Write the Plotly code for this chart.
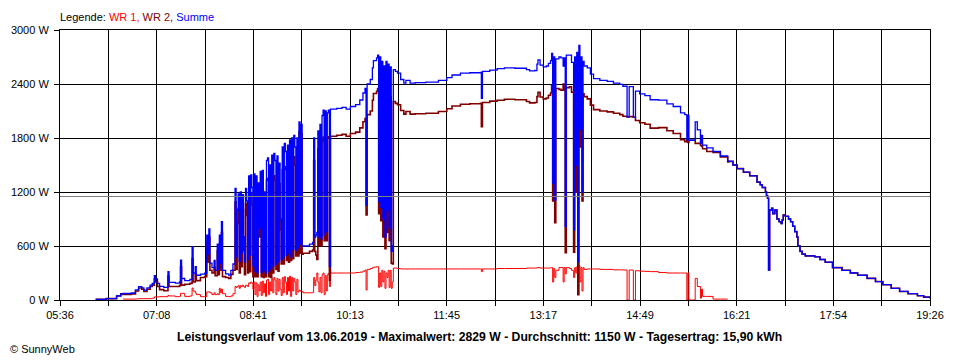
import plotly.graph_objects as go

# ---------------- data (minutes since midnight, watts) ----------------
zeit_min = [
    370, 380, 390, 394, 396, 404, 408, 411, 414, 416, 419, 422, 424, 426, 427, 429, 431, 435, 439, 440,
    446, 450, 451, 452, 455, 460, 462, 463, 465, 466, 470, 474, 476, 477, 478, 479, 481, 483, 484, 486,
    487, 488, 489, 490, 491, 494, 497, 499, 501,
    503, 504, 505, 506, 507, 508, 509, 510, 511, 512, 513, 514, 515, 516, 517, 518, 519, 520, 521, 522,
    523, 524, 525, 526, 527, 528, 529, 530, 531, 532, 533, 534, 535, 536, 537, 538, 539, 540, 541, 542,
    543, 544, 545, 546, 547, 548, 549, 550, 551, 552, 553, 554, 555, 556, 557, 558, 559, 560, 561, 562,
    563, 564, 565, 566, 567, 568, 574, 577,
    578, 579, 580, 581, 582, 583, 584, 585, 586, 587, 588, 589, 590, 591, 592, 593, 594,
    600, 605, 609, 613, 618, 622, 625, 627, 628, 629, 632, 634, 635, 638, 639, 640, 641, 642, 643, 644,
    645, 646, 647, 648, 649, 650, 651, 652, 653, 654, 656, 658, 661, 664, 666, 670, 675, 685, 693, 697,
    705, 710, 718,
    727, 737, 738, 739, 746, 753, 760, 770, 781, 784, 789, 791, 792, 794, 797, 800, 802, 804, 805, 806,
    807, 808, 809, 812, 814, 816, 817, 818, 819, 822, 824, 826, 827, 828, 829, 830, 831, 832, 833, 834,
    835, 836, 839, 842, 845, 851, 858, 864, 870, 873, 877, 879, 883, 885, 889, 894, 899, 907, 915, 921,
    928, 932, 934, 935, 936, 942, 944, 947, 948, 949, 953, 959, 966, 973,
    974, 978, 982, 988, 994, 1001, 1004, 1006, 1009, 1010, 1011, 1012, 1013, 1015, 1016, 1018, 1020, 1022, 1024, 1025,
    1026, 1028, 1031, 1033, 1035, 1037, 1039, 1040, 1042, 1044, 1047, 1056, 1061, 1066, 1073, 1082, 1090, 1097, 1106, 1114,
    1121, 1129, 1137, 1145, 1154, 1160, 1166,
]

wr1 = [
    None, None, None, None, 10, 10, 12, 15, 15, 15, 15, 15, 20, 35, 35, 35, 37, 37, 50, 45,
    37, 40, 74, 74, 40, 45, 133, 100, 80, 60, 37, 37, 90, 90, 90, 80, 60, 80, 60, 70,
    60, 130, 80, 120, 70, 40, 37, 45, 70,
    150, 140, 150, 160, 130, 160, 150, 165, 150, 140, 165, 160, 150, 190, 185, 200, 190, 120, 200, 60,
    190, 40, 170, 100, 200, 50, 210, 80, 180, 40, 220, 230, 60, 200, 100, 240, 80, 250, 220, 60,
    240, 100, 230, 120, 50, 250, 80, 260, 200, 60, 250, 100, 265, 40, 250, 100, 240, 200, 60, 230,
    90, 110, 100, 100, 90, 80, 80, 85,
    250, 160, 220, 300, 200, 90, 250, 80, 280, 300, 60, 270, 100, 280, 296, 150, 300,
    300, 300, 300, 300, 305, 310, 320, 333, 111, 340, 350, 360, 365, 370, 370, 140, 300, 150, 330, 200,
    320, 130, 300, 250, 330, 140, 330, 130, 200, 355, 355, 350, 345, 345, 345, 345, 345, 345, 345, 345,
    345, 345, 345,
    345, 345, 315, 345, 345, 350, 350, 350, 355, 355, 355, 360, 360, 355, 355, 355, 355, 360, 360, 200,
    350, 250, 330, 360, 360, 200, 360, 290, 360, 350, 330, 250, 360, 300, 370, 360, 380, 200, 360, 100,
    360, 340, 345, 345, 345, 340, 340, 335, 335, 333, 0, 333, 0, 325, 320, 318, 315, 305, 300, 300,
    300, 300, 0, 300, 0, 240, 150, 20, 120, 40, 40, 10, 10, 10,
    None, None, None, None, None, None, None, None, None, None, None, None, None, None, None, None, None, None, None, None,
    None, None, None, None, None, None, None, None, None, None, None, None, None, None, None, None, None, None, None, None,
    None, None, None, None, None, None, None,
]

wr2 = [
    8, 15, 45, 68, 62, 68, 100, 133, 120, 95, 120, 150, 165, 235, 200, 150, 115, 103, 265, 150,
    150, 160, 370, 165, 175, 185, 460, 200, 290, 215, 250, 260, 630, 420, 700, 330, 300, 360, 270, 550,
    280, 590, 330, 750, 260, 250, 240, 285, 330,
    1090, 340, 850, 1020, 300, 1040, 370, 1005, 550, 280, 1075, 940, 300, 1190, 315, 1190, 1060, 260, 1200, 260,
    1190, 260, 1130, 700, 1230, 260, 1230, 250, 1020, 260, 1330, 1350, 260, 1300, 250, 1370, 300, 1380, 1330, 340,
    1360, 320, 1290, 780, 400, 1450, 400, 1480, 1450, 440, 1470, 420, 1515, 440, 1550, 460, 1590, 1500, 490, 1570,
    490, 1870, 520, 1850, 510, 520, 540, 555,
    1550, 540, 500, 450, 1680, 610, 1700, 600, 1770, 1810, 660, 1830, 660, 1800, 1814, 220, 1820,
    1830, 1840, 1820, 1850, 1865, 1912, 1980, 2017, 944, 2060, 2100, 2220, 2295, 2320, 2350, 960, 2400, 880, 2320, 700,
    2280, 570, 2350, 750, 2290, 660, 2260, 410, 400, 2205, 2185, 2170, 2105, 2065, 2095, 2065, 2070, 2075, 2075, 2095,
    2125, 2155, 2175,
    2180, 2185, 1925, 2195, 2210, 2220, 2230, 2225, 2205, 2190, 2195, 2260, 2307, 2255, 2235, 2245, 2275, 2300, 2380, 1100,
    2350, 860, 2350, 2340, 2330, 2400, 2330, 525, 2360, 2370, 2310, 530, 2340, 1200, 2380, 60, 2449, 1700, 2340, 1100,
    2290, 2260, 2235, 2165, 2115, 2100, 2090, 2075, 2060, 2042, 2035, 2037, 2030, 1995, 1970, 1952, 1910, 1915, 1880, 1850,
    1780, 1760, 1780, 1750, 1775, 1740, 1740, 1720, 1710, 1680, 1650, 1640, 1590, 1535,
    1540, 1500, 1460, 1420, 1380, 1310, 1280, 1250, 1200, 1160, 1130, 333, 1000, 1020, 960, 1000, 900, 870, 850, 890,
    945, 930, 900, 870, 820, 760, 700, 600, 540, 510, 490, 480, 450, 420, 360, 330, 300, 275, 240, 205,
    170, 130, 95, 70, 48, 32, 20,
]

summe = [
    8, 15, 45, 68, 72, 78, 112, 148, 135, 110, 135, 165, 185, 270, 235, 185, 152, 140, 315, 195,
    187, 200, 444, 239, 215, 230, 593, 300, 370, 275, 287, 297, 720, 510, 790, 410, 360, 440, 330, 620,
    340, 720, 410, 870, 330, 290, 277, 330, 400,
    1240, 480, 1000, 1180, 430, 1200, 520, 1170, 700, 420, 1240, 1100, 450, 1380, 500, 1390, 1250, 380, 1400, 320,
    1380, 300, 1300, 800, 1430, 310, 1440, 330, 1200, 300, 1550, 1580, 320, 1500, 350, 1610, 380, 1630, 1550, 400,
    1600, 420, 1520, 900, 450, 1700, 480, 1740, 1650, 500, 1720, 520, 1780, 480, 1800, 560, 1830, 1700, 550, 1800,
    580, 1980, 620, 1950, 600, 600, 620, 640,
    1800, 700, 720, 750, 1880, 700, 1950, 680, 2050, 2110, 720, 2100, 760, 2080, 2110, 370, 2120,
    2130, 2140, 2120, 2150, 2170, 2222, 2300, 2350, 1055, 2400, 2450, 2580, 2660, 2690, 2720, 1100, 2700, 1030, 2650, 900,
    2600, 700, 2650, 1000, 2620, 800, 2590, 540, 600, 2560, 2540, 2520, 2450, 2410, 2440, 2410, 2415, 2420, 2420, 2440,
    2470, 2500, 2520,
    2525, 2530, 2240, 2540, 2555, 2570, 2580, 2575, 2560, 2545, 2550, 2620, 2667, 2610, 2590, 2600, 2630, 2660, 2740, 1300,
    2700, 1110, 2680, 2700, 2690, 2600, 2690, 815, 2720, 2720, 2640, 780, 2700, 1500, 2750, 420, 2829, 1900, 2700, 1200,
    2650, 2600, 2580, 2510, 2460, 2440, 2430, 2410, 2395, 2375, 2035, 2370, 2030, 2320, 2290, 2270, 2225, 2220, 2180, 2150,
    2080, 2060, 1780, 2050, 1775, 1980, 1890, 1740, 1830, 1720, 1690, 1650, 1600, 1545,
    1540, 1500, 1460, 1420, 1380, 1310, 1280, 1250, 1200, 1160, 1130, 333, 1000, 1020, 960, 1000, 900, 870, 850, 890,
    945, 930, 900, 870, 820, 760, 700, 600, 540, 510, 490, 480, 450, 420, 360, 330, 300, 275, 240, 205,
    170, 130, 95, 70, 48, 32, 20,
]

assert len(zeit_min) == len(wr1) == len(wr2) == len(summe), (len(zeit_min), len(wr1), len(wr2), len(summe))

x_start, x_end = 336, 1166            # 05:36 .. 19:26
x_labels = ["05:36", "07:08", "08:41", "10:13", "11:45", "13:17", "14:49", "16:21", "17:54", "19:26"]
y_ticks = [0, 600, 1200, 1800, 2400, 3000]
y_labels = ["0 W", "600 W", "1200 W", "1800 W", "2400 W", "3000 W"]
durchschnitt = 1150
titel = ("Leistungsverlauf vom 13.06.2019 - Maximalwert: 2829 W - "
         "Durchschnitt: 1150 W - Tagesertrag: 15,90 kWh")

n_div = 2 * (len(x_labels) - 1)
grid_x = [x_start + i * (x_end - x_start) / n_div for i in range(n_div + 1)]
grid_text = [x_labels[i // 2] if i % 2 == 0 else "" for i in range(n_div + 1)]

FONT = "Liberation Sans, Arial, sans-serif"

fig = go.Figure()
fig.add_trace(go.Scatter(x=zeit_min, y=wr1, mode="lines", name="WR 1",
                         line=dict(color="#FF0000", width=1, shape="hv"), connectgaps=False))
fig.add_trace(go.Scatter(x=zeit_min, y=wr2, mode="lines", name="WR 2",
                         line=dict(color="#800000", width=1.6, shape="hv")))
fig.add_trace(go.Scatter(x=zeit_min, y=summe, mode="lines", name="Summe",
                         line=dict(color="#0000FF", width=1.3, shape="hv")))

axis_common = dict(showgrid=True, gridcolor="#000000", gridwidth=1, zeroline=False,
                   showline=True, linecolor="#000000", linewidth=1, mirror=True,
                   ticks="outside", ticklen=5, tickwidth=1, tickcolor="#000000",
                   automargin=False,
                   tickfont=dict(family=FONT, size=11, color="#000000"))

# plot area: 870 x 270 px; the page body has an 8 px margin, so the figure is
# sized/placed to compensate
PLOT_W, PLOT_H = 870, 270
fig.update_layout(
    width=952, height=352,
    margin=dict(l=52, r=30, t=22, b=60, pad=0),
    paper_bgcolor="white", plot_bgcolor="white",
    showlegend=False,
    font=dict(family=FONT, size=11, color="#000000"),
    xaxis=dict(range=[x_start, x_end], tickmode="array", tickvals=grid_x, ticktext=grid_text,
               tickangle=0, **axis_common),
    yaxis=dict(range=[0, 3000], tickmode="array", tickvals=y_ticks, ticktext=y_labels,
               ticklabelstandoff=3, **axis_common),
    shapes=[dict(type="line", xref="paper", x0=0, x1=1, yref="y", y0=durchschnitt, y1=durchschnitt,
                 line=dict(color="#808080", width=1), layer="above")],
    annotations=[
        dict(xref="paper", yref="paper", x=0, y=1 + 13 / PLOT_H, xanchor="left", yanchor="middle",
             xshift=-2, showarrow=False, font=dict(family=FONT, size=11, color="#000000"),
             text=("Legende: <span style='color:#FF0000'>WR 1,</span> "
                   "<span style='color:#800000'>WR 2,</span> "
                   "<span style='color:#0000FF'>Summe</span>")),
        dict(xref="paper", yref="paper", x=(479.5 - 60) / PLOT_W, y=-37 / PLOT_H, xanchor="center",
             yanchor="middle", showarrow=False,
             font=dict(family=FONT, size=12.2, color="#000000"), text="<b>" + titel + "</b>"),
        dict(xref="paper", yref="paper", x=-52 / PLOT_W, y=-49 / PLOT_H, xanchor="left",
             yanchor="middle", showarrow=False,
             font=dict(family=FONT, size=11, color="#000000"), text="© SunnyWeb"),
    ],
)

fig.write_html("out.html")
